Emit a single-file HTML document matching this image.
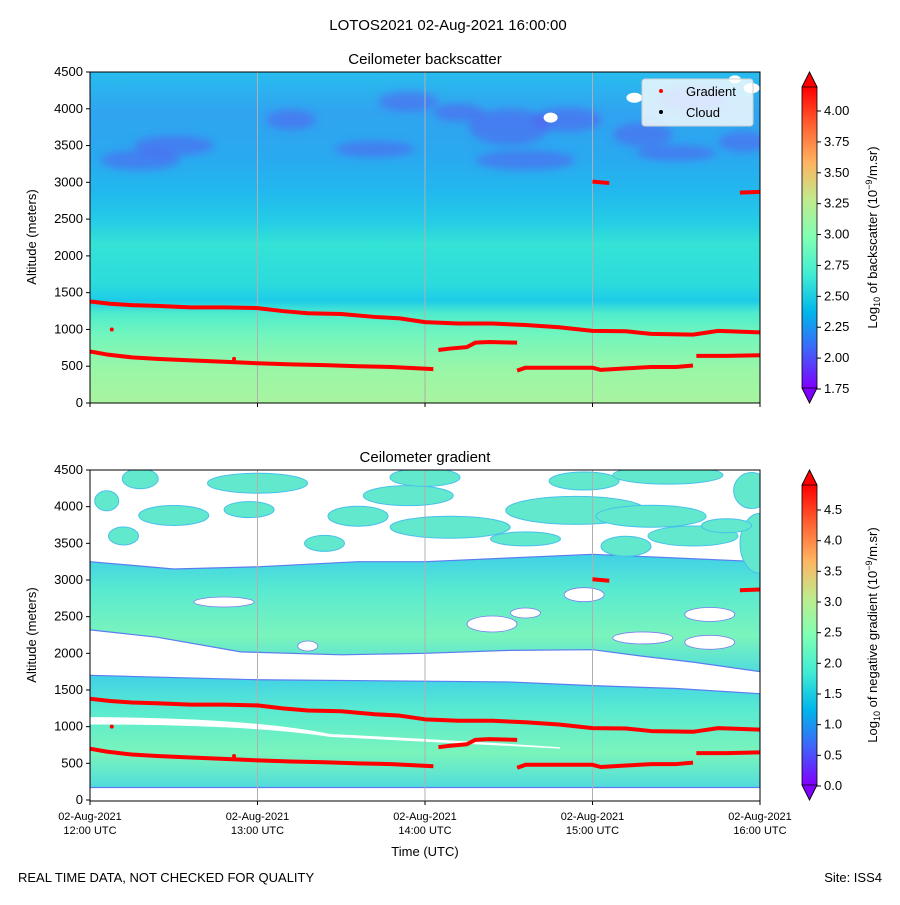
<!DOCTYPE html>
<html><head><meta charset="utf-8">
<style>
body{margin:0;background:#fff;}
svg text{font-family:"Liberation Sans",sans-serif;fill:#000;}
</style></head>
<body>
<svg id="fig" width="900" height="900" viewBox="0 0 900 900" xmlns="http://www.w3.org/2000/svg">
<defs>
<linearGradient id="bgTop" x1="0" y1="1" x2="0" y2="0">
<stop offset="0" stop-color="#a8f4a0"/><stop offset="0.1" stop-color="#9af6a6"/>
<stop offset="0.2" stop-color="#74f6bc"/><stop offset="0.27" stop-color="#50eccc"/>
<stop offset="0.31" stop-color="#1ccce8"/><stop offset="0.36" stop-color="#2cdcdc"/>
<stop offset="0.48" stop-color="#34e2d6"/><stop offset="0.55" stop-color="#24cce6"/>
<stop offset="0.64" stop-color="#22b8ee"/><stop offset="0.75" stop-color="#2aa8f0"/>
<stop offset="0.88" stop-color="#30a4f0"/><stop offset="1" stop-color="#28bcee"/>
</linearGradient>
<linearGradient id="rainbow" x1="0" y1="1" x2="0" y2="0">
<stop offset="0" stop-color="#8000ff"/><stop offset="0.125" stop-color="#4062fa"/>
<stop offset="0.25" stop-color="#00b5eb"/><stop offset="0.375" stop-color="#40ecd4"/>
<stop offset="0.5" stop-color="#80ffb4"/><stop offset="0.625" stop-color="#c0eb8d"/>
<stop offset="0.75" stop-color="#ffb360"/><stop offset="0.875" stop-color="#ff6030"/>
<stop offset="1" stop-color="#ff0000"/>
</linearGradient>
<linearGradient id="band" x1="0" y1="0" x2="0" y2="1">
<stop offset="0" stop-color="#40d0e8"/><stop offset="0.3" stop-color="#58ead0"/>
<stop offset="0.7" stop-color="#7af4bc"/><stop offset="1" stop-color="#50dcdc"/>
</linearGradient>
<filter id="blur4"><feGaussianBlur stdDeviation="4"/></filter>
<clipPath id="clipT"><rect x="90" y="72" width="670" height="331"/></clipPath>
<clipPath id="clipB"><rect x="90" y="470" width="670" height="330"/></clipPath>
</defs>
<text x="448" y="30" font-size="15" text-anchor="middle">LOTOS2021 02-Aug-2021 16:00:00</text>
<g id="topPanel"></g>
<g id="botPanel"></g>
<g id="cbars"></g>
<text x="18" y="882" font-size="13">REAL TIME DATA, NOT CHECKED FOR QUALITY</text>
<text x="882" y="882" font-size="13" text-anchor="end">Site: ISS4</text>
</svg>
<script>
const timeTicks=[12,13,14,15,16];
const timeLabels=["12:00 UTC","13:00 UTC","14:00 UTC","15:00 UTC","16:00 UTC"];
const altTicks=[0,500,1000,1500,2000,2500,3000,3500,4000,4500];
const cbTopTicks=[1.75,2.0,2.25,2.5,2.75,3.0,3.25,3.5,3.75,4.0];
const cbBotTicks=[0.0,0.5,1.0,1.5,2.0,2.5,3.0,3.5,4.0,4.5];
const upperLayerT=[12,12.12,12.25,12.4,12.6,12.8,13,13.15,13.3,13.5,13.7,13.85,14,14.2,14.4,14.6,14.8,15,15.2,15.35,15.6,15.75,16];
const upperLayerA=[1380,1350,1330,1320,1300,1300,1290,1250,1220,1210,1170,1150,1100,1080,1080,1060,1030,980,975,940,930,980,960];
const lowerLayer1T=[12,12.1,12.25,12.4,12.6,12.8,13,13.2,13.4,13.6,13.8,14.05];
const lowerLayer1A=[700,660,620,600,580,560,540,525,515,500,490,460];
const lowerLayer2T=[14.08,14.15,14.25,14.3,14.38,14.55];
const lowerLayer2A=[720,740,760,820,830,820];
const lowerLayer3T=[14.55,14.6,14.8,15,15.05,15.2,15.35,15.5,15.6];
const lowerLayer3A=[440,480,480,480,450,470,490,490,510];
const lowerLayer4T=[15.62,15.8,16];
const lowerLayer4A=[640,640,650];
const highLayer1T=[15,15.1];
const highLayer1A=[3010,2990];
const highLayer2T=[15.88,16];
const highLayer2A=[2860,2870];
const isolatedT=[12.13,12.86];
const isolatedA=[1000,600];

const NS="http://www.w3.org/2000/svg";
const X0=90,X1=760;
function xs(t){return X0+(t-12)/4*(X1-X0);}
function ysT(a){return 403-a/4500*331;}
function ysB(a){return 800-a/4500*330;}
function mk(tag,attrs,parent){const e=document.createElementNS(NS,tag);for(const k in attrs)e.setAttribute(k,attrs[k]);parent.appendChild(e);return e;}

function drawPanel(g,ys,yTop,bottomPanel,title){
  const clip=mk('g',{'clip-path':bottomPanel?'url(#clipB)':'url(#clipT)'},g);
  if(!bottomPanel){
    const bg=mk('rect',{x:90,y:72,width:670,height:331,fill:'url(#bgTop)'},clip);
    
    
    const pg=mk('g',{filter:'url(#blur4)'},clip);
    const patches=[[13.2,3850,25,10],[14.5,3750,40,18],[14.85,3850,35,12],[15.6,4150,35,12],[15.3,3650,30,12],[13.9,4100,30,10],[14.2,3950,25,9],[15.9,3550,25,10],[12.5,3500,40,10],[12.3,3300,40,10],[13.7,3450,40,8],[14.6,3300,50,10],[15.5,3400,40,8]];
    patches.forEach(p=>{const e=mk('ellipse',{cx:xs(p[0]),cy:ys(p[1]),rx:p[2],ry:p[3],fill:'#6050f0',opacity:0.45},pg);
      });
    [[14.75,3880,7,5],[15.25,4150,8,5],[15.95,4280,8,5],[15.85,4400,6,4]].forEach(p=>{mk('ellipse',{cx:xs(p[0]),cy:ys(p[1]),rx:p[2],ry:p[3],fill:'#fff'},clip);});
  } else {
    mk('rect',{x:90,y:470,width:670,height:330,fill:'#fff'},clip);
    function bandPoly(tp,bt,name){
      let d='M'+xs(tp[0][0])+','+ys(tp[0][1]);
      tp.forEach(p=>d+=' L'+xs(p[0])+','+ys(p[1]));
      bt.slice().reverse().forEach(p=>d+=' L'+xs(p[0])+','+ys(p[1]));
      const e=mk('path',{d:d+'Z',fill:'url(#band)',stroke:'#5a7cf0','stroke-width':1.2},clip);
      
    }
    bandPoly([[12,1700],[13,1640],[14,1620],[14.5,1610],[15,1560],[15.5,1520],[16,1450]],[[12,170],[16,170]],'boundary-layer-band');
    bandPoly([[12,3250],[12.5,3150],[13,3180],[13.6,3250],[14,3250],[14.5,3300],[15,3350],[15.5,3300],[16,3250]],
             [[12,2320],[12.4,2220],[12.9,2020],[13.5,1980],[14,2000],[14.5,2040],[15,2050],[15.3,1960],[15.6,1880],[16,1750]],'residual-layer-band');
    [[15.3,2210,30,6],[14.4,2400,25,8],[15.7,2150,25,7],[15.7,2530,25,7],[14.95,2800,20,7],[13.3,2100,10,5],[12.8,2700,30,5],[14.6,2550,15,5]].forEach(p=>{
      mk('ellipse',{cx:xs(p[0]),cy:ys(p[1]),rx:p[2],ry:p[3],fill:'#fff',stroke:'#7a7cf0','stroke-width':0.8},clip);});
    mk('path',{d:'M90,'+ysB(1130)+' Q250,'+ysB(1120)+' 330,'+ysB(900)+' Q450,'+ysB(820)+' 560,'+ysB(720)+' L560,'+ysB(700)+' Q450,'+ysB(780)+' 330,'+ysB(860)+' Q250,'+ysB(1030)+' 90,'+ysB(1030)+'Z',fill:'#fff'},clip);
    const clouds=[[12.2,3600,15,9],[12.5,3880,35,10],[12.95,3960,25,8],[13.6,3870,30,10],[13.9,4150,45,10],[14.15,3720,60,11],[14.9,3950,70,14],[15.35,3870,55,11],[15.6,3600,45,10],[16,3500,20,30],[12.3,4380,18,10],[13.0,4320,50,10],[14.0,4400,35,9],[14.95,4350,35,9],[15.45,4430,55,9],[15.95,4220,18,18],[12.1,4080,12,10],[13.4,3500,20,8],[15.2,3460,25,10],[14.6,3560,35,7],[15.8,3740,25,7]];
    clouds.forEach(p=>{const e=mk('ellipse',{cx:xs(p[0]),cy:ys(p[1]),rx:p[2],ry:p[3],fill:'#62e8cc',stroke:'#48c0ec','stroke-width':1},clip);
      });
  }
  timeTicks.slice(1,4).forEach(t=>mk('line',{x1:xs(t),x2:xs(t),y1:yTop,y2:yTop+331,stroke:'#b0b0b0','stroke-width':1},clip));
  const segs=[[upperLayerT,upperLayerA],[lowerLayer1T,lowerLayer1A],[lowerLayer2T,lowerLayer2A],[lowerLayer3T,lowerLayer3A],[lowerLayer4T,lowerLayer4A],[highLayer1T,highLayer1A],[highLayer2T,highLayer2A]];
  segs.forEach(s=>{const pts=s[0].map((t,i)=>xs(t)+','+ys(s[1][i])).join(' ');
    const e=mk('polyline',{points:pts,fill:'none',stroke:'#ff0000','stroke-width':4,'stroke-linejoin':'round'},clip);
    });
  isolatedT.forEach((t,i)=>{const e=mk('circle',{cx:xs(t),cy:ys(isolatedA[i]),r:2,fill:'#ff0000'},clip);
    });
  mk('rect',{x:90,y:yTop,width:670,height:331,fill:'none',stroke:'#000','stroke-width':1},g);
  altTicks.forEach(a=>{const y=ys(a);
    mk('line',{x1:86,x2:90,y1:y,y2:y,stroke:'#000'},g);
    const t=mk('text',{x:83,y:y+4,'font-size':13,'text-anchor':'end'},g);t.textContent=a;
    });
  timeTicks.forEach(tt=>mk('line',{x1:xs(tt),x2:xs(tt),y1:yTop+331,y2:yTop+335,stroke:'#000'},g));
  const yl=mk('text',{x:0,y:0,'font-size':13,'text-anchor':'middle',transform:'translate(36,'+(yTop+165)+') rotate(-90)'},g);
  yl.textContent='Altitude (meters)';
  const tl=mk('text',{x:425,y:yTop-8,'font-size':15,'text-anchor':'middle'},g);tl.textContent=title;
  
}
const topG=document.getElementById('topPanel');
const botG=document.getElementById('botPanel');
drawPanel(topG,ysT,72,false,'Ceilometer backscatter');
drawPanel(botG,ysB,470,true,'Ceilometer gradient');

timeTicks.forEach((t,i)=>{
  const a=mk('text',{x:xs(t),y:820,'font-size':11,'text-anchor':'middle'},botG);a.textContent='02-Aug-2021';
  
  const b=mk('text',{x:xs(t),y:834,'font-size':11,'text-anchor':'middle'},botG);b.textContent=timeLabels[i];
  });
const xt=mk('text',{x:425,y:856,'font-size':13,'text-anchor':'middle'},botG);xt.textContent='Time (UTC)';


const lg=mk('g',{},topG);

mk('rect',{x:642,y:79,width:111,height:47,rx:3,fill:'#fff','fill-opacity':0.8,stroke:'#d0d0d0'},lg);
mk('circle',{cx:661,cy:91,r:2,fill:'#f00'},lg);
mk('circle',{cx:661,cy:112,r:2,fill:'#000'},lg);
const l1=mk('text',{x:686,y:96,'font-size':13},lg);l1.textContent='Gradient';

const l2=mk('text',{x:686,y:117,'font-size':13},lg);l2.textContent='Cloud';


function cbar(y0,y1,vTick0,yTick0,vTick1,yTick1,ticks,label,dec,name){
  const g=mk('g',{},document.getElementById('cbars'));
  
  mk('rect',{x:802,y:y0+15,width:15,height:y1-y0-30,fill:'url(#rainbow)'},g);
  mk('path',{d:`M802,${y0+15} L809.5,${y0} L817,${y0+15}Z`,fill:'#f00',stroke:'#000','stroke-width':0.8},g);
  mk('path',{d:`M802,${y1-15} L809.5,${y1} L817,${y1-15}Z`,fill:'#8000ff',stroke:'#000','stroke-width':0.8},g);
  mk('path',{d:`M802,${y0+15} L809.5,${y0} L817,${y0+15} L817,${y1-15} L809.5,${y1} L802,${y1-15}Z`,fill:'none',stroke:'#000','stroke-width':0.8},g);
  ticks.forEach(v=>{const y=yTick0+(v-vTick0)/(vTick1-vTick0)*(yTick1-yTick0);
    mk('line',{x1:817,x2:821,y1:y,y2:y,stroke:'#000'},g);
    const t=mk('text',{x:824,y:y+4,'font-size':13},g);t.textContent=v.toFixed(dec);
    });
  const t=mk('text',{x:0,y:0,'font-size':13,'text-anchor':'middle',transform:`translate(877,${(y0+y1)/2}) rotate(-90)`},g);
  t.innerHTML=label;
}
cbar(72,403,1.75,389,4.0,111,cbTopTicks,'Log<tspan font-size="9" dy="3">10</tspan><tspan dy="-3"> of backscatter (10</tspan><tspan font-size="9" dy="-5">−9</tspan><tspan dy="5">/m.sr)</tspan>',2,'backscatter-colorbar');
cbar(470,800,0,786,4.5,510,cbBotTicks,'Log<tspan font-size="9" dy="3">10</tspan><tspan dy="-3"> of negative gradient (10</tspan><tspan font-size="9" dy="-5">−9</tspan><tspan dy="5">/m.sr)</tspan>',1,'gradient-colorbar');
</script>
</body></html>
